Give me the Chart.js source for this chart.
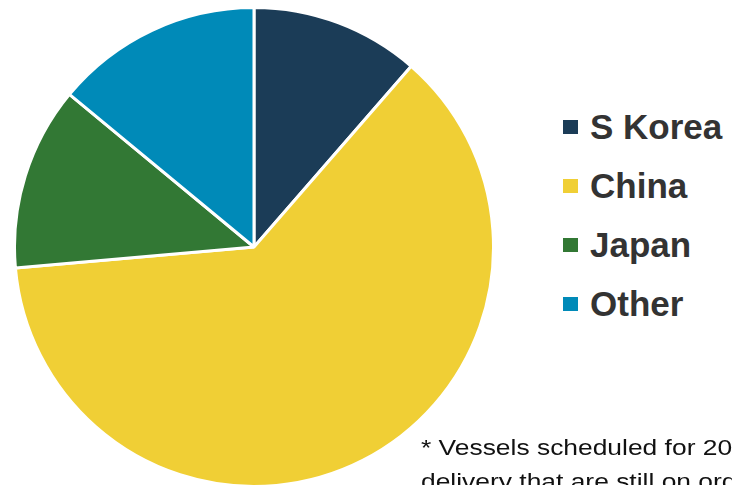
<!DOCTYPE html>
<html>
<head>
<meta charset="utf-8">
<script src="https://cdn.jsdelivr.net/npm/chart.js@4"></script>
<style>
  html, body { margin: 0; padding: 0; background: #fff; width: 732px; height: 485px; overflow: hidden; position: relative; }
  #pieWrap { position: absolute; left: 13px; top: 6px; width: 482px; height: 482px; }
  #legend { position: absolute; left: 563px; top: 97px; font-family: "Liberation Sans", Arial, sans-serif; font-weight: bold; font-size: 35px; color: #333; }
  .row { height: 59px; display: flex; align-items: center; white-space: nowrap; }
  .box { width: 15px; height: 14px; margin-right: 12px; flex: none; }
  #note { position: absolute; left: 421px; top: 431px; font-family: "Liberation Sans", Arial, sans-serif; font-size: 22px; line-height: 34px; color: #111; white-space: nowrap; transform: scaleX(1.2); transform-origin: left top; }
</style>
</head>
<body>
<div id="pieWrap"><canvas id="pieChart"></canvas></div>
<div id="legend"></div>
<div id="note">* Vessels scheduled for 2017<br>delivery that are still on order</div>
<script>
// builder share of vessels on order (%)
const categories = ['S Korea', 'China', 'Japan', 'Other'];
const shares = [11.4, 62.2, 12.4, 14.0];
const colors = ['#1B3C57', '#F0CF35', '#327834', '#008AB8'];

const legendEl = document.getElementById('legend');
categories.forEach((name, i) => {
    const row = document.createElement('div');
    row.className = 'row';
    row.innerHTML = '<span class="box" style="background:' + colors[i] + '"></span>' + name;
    legendEl.appendChild(row);
});

new Chart(document.getElementById('pieChart'), {
    type: 'pie',
    data: {
        labels: categories,
        datasets: [{
            data: shares,
            backgroundColor: colors,
            borderColor: '#ffffff',
            borderWidth: 3
        }]
    },
    options: {
        responsive: true,
        maintainAspectRatio: false,
        animation: false,
        layout: { padding: 0 },
        plugins: {
            legend: { display: false },
            tooltip: { enabled: false }
        }
    }
});
</script>
</body>
</html>
